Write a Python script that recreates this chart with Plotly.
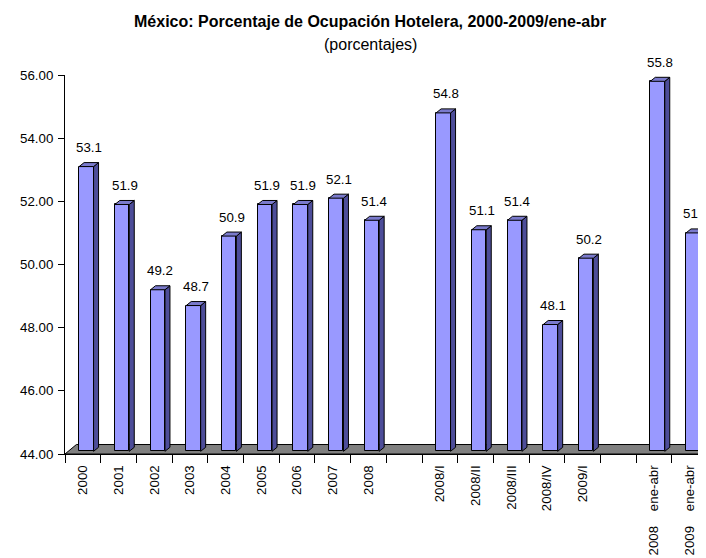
import plotly.graph_objects as go

# ---- data ----
categories = ["2000", "2001", "2002", "2003", "2004", "2005", "2006", "2007", "2008",
              "",
              "2008/I", "2008/II", "2008/III", "2008/IV", "2009/I",
              " ",
              "2008    ene-abr", "2009    ene-abr"]
values = [53.1, 51.9, 49.2, 48.7, 50.9, 51.9, 51.9, 52.1, 51.4,
          None,
          54.8, 51.1, 51.4, 48.1, 50.2,
          None,
          55.8, 51.0]
y_ticks = [44, 46, 48, 50, 52, 54, 56]

title_text = "<b>México: Porcentaje de Ocupación Hotelera, 2000-2009/ene-abr</b>"
subtitle_text = "(porcentajes)"

# ---- style constants ----
FONT = "Liberation Sans, Arial, sans-serif"
FRONT = "#9999FF"
SIDE = "#4d4d99"
TOP = "#7a7acc"
FX0, FX1 = -0.105, 0.30      # front face extent relative to category centre
DX, DY = 0.14, 0.127         # 3-D depth offset of bars
BASE = 44.085
YMIN, YMAX = 44, 56
XMIN, XMAX = -0.5, 17.455
FDX, FDY = 0.32, 0.30        # floor depth

# page body has an 8px margin; figure is laid out in window pixels minus 8
OFF = 8
W, H = 706 - OFF, 558 - OFF
ML, MT, MB = 65 - OFF, 75 - OFF, 104

fig = go.Figure()

# floor
fig.add_shape(type="path", xref="x", yref="y", layer="below",
              path=f"M {XMIN},{YMIN} L {XMAX+1},{YMIN} L {XMAX+1+FDX},{YMIN+FDY} "
                   f"L {XMIN+FDX},{YMIN+FDY} Z",
              fillcolor="#808080", line=dict(color="black", width=1))

bx, by = [], []
sx, sy, tx, ty = [], [], [], []
tickvals, ticktext = [], []
for i, (c, v) in enumerate(zip(categories, values)):
    if v is None:
        continue
    tickvals.append(i)
    ticktext.append(c)
    x0, x1 = i + FX0, i + FX1
    bx.append((x0 + x1) / 2)
    by.append(v - BASE)
    sx += [x1, x1 + DX, x1 + DX, x1, x1, None]
    sy += [BASE, BASE + DY, v + DY, v, BASE, None]
    tx += [x0, x0 + DX, x1 + DX, x1, x0, None]
    ty += [v, v + DY, v + DY, v, v, None]
    fig.add_annotation(x=(x0 + x1 + DX) / 2, y=v + DY, xref="x", yref="y",
                       text=f"{v:.1f}", showarrow=False, xanchor="center",
                       yanchor="middle", yshift=15,
                       font=dict(family=FONT, size=13.3, color="black"))

fig.add_trace(go.Bar(x=bx, y=by, base=BASE, width=FX1 - FX0,
                     marker=dict(color=FRONT, line=dict(color="black", width=1)),
                     hoverinfo="skip"))
fig.add_trace(go.Scatter(x=sx, y=sy, mode="lines", fill="toself", fillcolor=SIDE,
                         line=dict(color="black", width=1), hoverinfo="skip"))
fig.add_trace(go.Scatter(x=tx, y=ty, mode="lines", fill="toself", fillcolor=TOP,
                         line=dict(color="black", width=1), hoverinfo="skip"))

boundaries = [k - 0.5 for k in range(len(categories) + 1)]

fig.update_layout(
    width=W, height=H,
    margin=dict(l=ML, r=0, t=MT, b=MB, pad=0),
    paper_bgcolor="white", plot_bgcolor="white",
    showlegend=False, bargap=0,
    font=dict(family=FONT, size=13.3, color="black"),
    xaxis=dict(range=[XMIN, XMAX], tickmode="array", tickvals=tickvals, ticktext=ticktext,
               tickangle=-90, ticks="outside", ticklen=5, tickcolor="rgba(0,0,0,0)",
               showline=True, linecolor="black", linewidth=1,
               showgrid=False, zeroline=False,
               minor=dict(tickmode="array", tickvals=boundaries, ticks="outside",
                          ticklen=8, tickcolor="black", showgrid=False),
               tickfont=dict(family=FONT, size=13.3, color="black")),
    yaxis=dict(range=[YMIN, YMAX], tickmode="array", tickvals=y_ticks,
               tickformat=".2f", ticks="outside", ticklen=6, tickcolor="black",
               showline=True, linecolor="black", linewidth=1,
               showgrid=False, zeroline=False, ticklabelstandoff=2,
               tickfont=dict(family=FONT, size=13.3, color="black")),
)

plot_h = H - MT - MB
plot_w = W - ML
def py(p):
    return (H - MB - (p - OFF)) / plot_h
def px(p):
    return (p - OFF - ML) / plot_w

fig.add_annotation(text=title_text, xref="paper", yref="paper",
                   x=px(369.5), y=py(21.4), xanchor="center", yanchor="middle",
                   showarrow=False, font=dict(family=FONT, size=16, color="black"))
fig.add_annotation(text=subtitle_text, xref="paper", yref="paper",
                   x=px(370), y=py(44.4), xanchor="center", yanchor="middle",
                   showarrow=False, font=dict(family=FONT, size=16, color="black"))

fig.write_html("out.html")
